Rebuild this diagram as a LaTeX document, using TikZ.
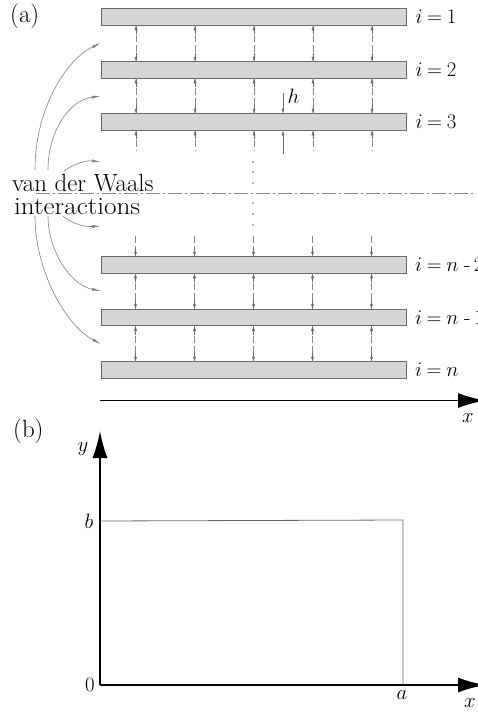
\documentclass[tikz,border=0pt]{standalone}
\usepackage{amsmath,amssymb}
\usepackage{xcolor}
\usetikzlibrary{positioning,arrows.meta,calc}
\definecolor{plate}{HTML}{D6D6D6}
\definecolor{wire}{HTML}{6A6A6A}
\begin{document}
\begin{tikzpicture}[
    x=1pt, y=-1pt,
    plate/.style={draw=wire, thick, fill=plate, minimum width=305pt, minimum height=16.5pt, inner sep=0pt, outer sep=0pt},
    tag/.style={anchor=west, inner sep=0pt, font=\huge},
    lbl/.style={inner sep=0pt, font=\huge},
    gap/.style={draw=wire!80, line width=0.5pt, dash pattern=on 7pt off 3pt},
    tip/.style={-{Latex[length=5pt,width=3pt]}, draw=wire, line width=0.5pt},
    curved/.style={-{Latex[length=9pt,width=3pt]}, draw=wire!85, line width=0.6pt},
    axis/.style={-{Latex[length=27pt,width=15pt]}, line width=1.6pt, draw=black}
]
    \useasboundingbox (0,0) rectangle (477,712);

    % plates
    \node[plate] (p1) at (254,17) {};
    \node[plate] (p2) at (254,70) {};
    \node[plate] (p3) at (254,122) {};
    \node[plate] (p4) at (253.5,265) {};
    \node[plate] (p5) at (253.5,317.5) {};
    \node[plate] (p6) at (253.5,370) {};

    \node[tag, right=9pt of p1.east] (t1) {$i\mkern-1mu=\mkern-1mu 1$};
    \node[tag, right=9pt of p2.east] (t2) {$i\mkern-1mu=\mkern-1mu 2$};
    \node[tag, right=9pt of p3.east] (t3) {$i\mkern-1mu=\mkern-1mu 3$};
    \node[tag, right=9pt of p4.east] (t4) {$i\mkern-1mu=\mkern-1mu n\;\text{-}\,2$};
    \node[tag, right=9pt of p5.east] (t5) {$i\mkern-1mu=\mkern-1mu n\;\text{-}\,1$};
    \node[tag, right=9pt of p6.east] (t6) {$i\mkern-1mu=\mkern-1mu n$};

    % dashed gaps between plates
    \foreach \gx in {-118,-59,0,59,118} {
        \foreach \upper/\lower in {p1/p2,p2/p3,p4/p5,p5/p6} {
            \coordinate (u) at ($(\upper.south)+(\gx,0)$);
            \coordinate (l) at ($(\lower.north)+(\gx,0)$);
            \draw[gap] (u) -- (l);
            \draw[tip] ($(u)+(0,9)$) -- (u);
            \draw[tip] ($(l)+(0,-9)$) -- (l);
        }
        \coordinate (a3) at ($(p3.south)+(\gx,0)$);
        \coordinate (b3) at ($(a3)+(0,21)$);
        \draw[gap] (a3) -- (b3);
        \draw[tip] ($(a3)+(0,9)$) -- (a3);
        \coordinate (a4) at ($(p4.north)+(\gx,0)$);
        \coordinate (b4) at ($(a4)+(0,-21)$);
        \draw[gap] (b4) -- (a4);
        \draw[tip] ($(a4)+(0,-9)$) -- (a4);
    }

    % gap label
    \coordinate (h1) at (283,93);
    \coordinate (h2) at (283,153.5);
    \draw[tip] (h1) -- ($(p3.north)+(29,0)$);
    \draw[tip] (h2) -- ($(p3.south)+(29,0)$);
    \node[lbl] (hl) at (293.5,96) {$h$};

    % dots and midline
    \foreach \dy in {162,172,183,203,214,225} {
        \fill[wire] (253,\dy) circle (0.8);
    }
    \coordinate (m1) at (36,193.5);
    \coordinate (m2) at (473,193.5);
    \draw[wire!80, line width=0.5pt, dash pattern=on 14pt off 3pt on 2pt off 3pt] (m1) -- (m2);

    % van der Waals
    \node[anchor=west, align=left, inner sep=0pt, font=\Huge] (vdw) at (12,194.5) {van der Waals\\[-7pt]\hspace{2pt}\scalebox{1.09}[1]{interactions}};
    \coordinate (c1) at (101,43);
    \coordinate (c2) at (101,96);
    \coordinate (c3) at (101,162);
    \coordinate (c4) at (101,226);
    \coordinate (c5) at (101,291);
    \coordinate (c6) at (101,344);
    \draw[curved] (35,170) .. controls (35,110) and (65,60) .. (c1);
    \draw[curved] (48,170) .. controls (48,130) and (70,100) .. (c2);
    \draw[curved] (64,171) .. controls (72,165) and (85,160) .. (c3);
    \draw[curved] (63,216) .. controls (72,224) and (85,227) .. (c4);
    \draw[curved] (48,216) .. controls (48,250) and (70,285) .. (c5);
    \draw[curved] (35,216) .. controls (35,270) and (65,325) .. (c6);

    % x axis of (a)
    \coordinate (ax1) at (100,400.5);
    \coordinate (ax2) at (485,400.5);
    \draw[axis] (ax1) -- (ax2);
    \node[lbl] (xa) at (468,418) {$x$};
    \node[anchor=west, inner sep=0pt, font=\Huge] (la) at (10,16) {(a)};
    \node[anchor=west, inner sep=0pt, font=\Huge] (lb) at (13,431) {(b)};

    % part (b)
    \coordinate (o) at (100,685);
    \coordinate (xb) at (485,685);
    \coordinate (yb) at (100,431);
    \coordinate (bb) at (100,521);
    \coordinate (aa) at (403,685);
    \coordinate (ab) at (403,520);
    \draw[axis] (o) -- (xb);
    \draw[axis] (o) -- (yb);
    \draw[wire, line width=0.8pt] (bb) -- (ab) -- (aa);
    \node[lbl] (ly) at (83,449) {$y$};
    \node[lbl] (lbb) at (89,521) {$b$};
    \node[lbl] (l0) at (90,685) {$0$};
    \node[lbl] (laa) at (402,695) {$a$};
    \node[lbl] (xx) at (470,703) {$x$};
\end{tikzpicture}
\end{document}
